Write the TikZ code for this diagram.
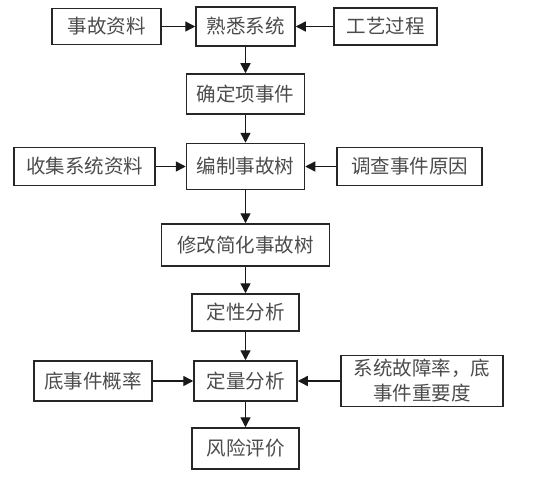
\documentclass[tikz,border=0pt]{standalone}
\usepackage{fontspec}
\newfontfamily\cjk{Noto Sans CJK SC}
\usetikzlibrary{arrows.meta}
\begin{document}
\begin{tikzpicture}[x=1pt,y=-1pt,
  box/.style={draw=black!85, line width=1.5pt, inner sep=0pt, align=center,
    font=\cjk\fontsize{19.5}{25}\selectfont, text=black!70},
  arr/.style={line width=1.4pt, draw=black!90, -{Triangle[length=10pt,width=10pt]}}]
\useasboundingbox[fill=white] (0,0) rectangle (540,476);
% row 1
\node[box, minimum width=109pt, minimum height=36pt] (A) at (106.5,26.5) {事故资料};
\node[box, minimum width=99pt, minimum height=39pt] (B) at (245.5,26.5) {熟悉系统};
\node[box, minimum width=103pt, minimum height=37pt] (C) at (385.5,26.5) {工艺过程};
% row 2
\node[box, minimum width=118pt, minimum height=40pt] (D) at (245.5,94) {确定项事件};
% row 3
\node[box, minimum width=141pt, minimum height=38pt] (E) at (84.5,166.5) {收集系统资料};
\node[box, minimum width=118pt, minimum height=46pt] (F) at (245.5,166.5) {编制事故树};
\node[box, minimum width=145pt, minimum height=38pt] (G) at (409.5,166.5) {调查事件原因};
% row 4
\node[box, minimum width=168pt, minimum height=42pt] (H) at (245.5,245) {修改简化事故树};
% row 5
\node[box, minimum width=107pt, minimum height=37pt] (I) at (245.5,312.5) {定性分析};
% row 6
\node[box, minimum width=118pt, minimum height=40pt] (J) at (93,381) {底事件概率};
\node[box, minimum width=103pt, minimum height=40pt] (K) at (245.5,381) {定量分析};
\node[box, minimum width=162pt, minimum height=51pt] (L) at (422,381) {系统故障率，底\\事件重要度};
% row 7
\node[box, minimum width=107pt, minimum height=41pt] (M) at (245.5,448.5) {风险评价};
% connectors
\draw[arr] (A) -- (B);
\draw[arr] (C) -- (B);
\draw[arr] (B) -- (D);
\draw[arr] (D) -- (F);
\draw[arr] (E) -- (F);
\draw[arr] (G) -- (F);
\draw[arr] (F) -- (H);
\draw[arr] (H) -- (I);
\draw[arr] (I) -- (K);
\draw[arr] (J) -- (K);
\draw[arr] (L) -- (K);
\draw[arr] (K) -- (M);
\end{tikzpicture}
\end{document}
